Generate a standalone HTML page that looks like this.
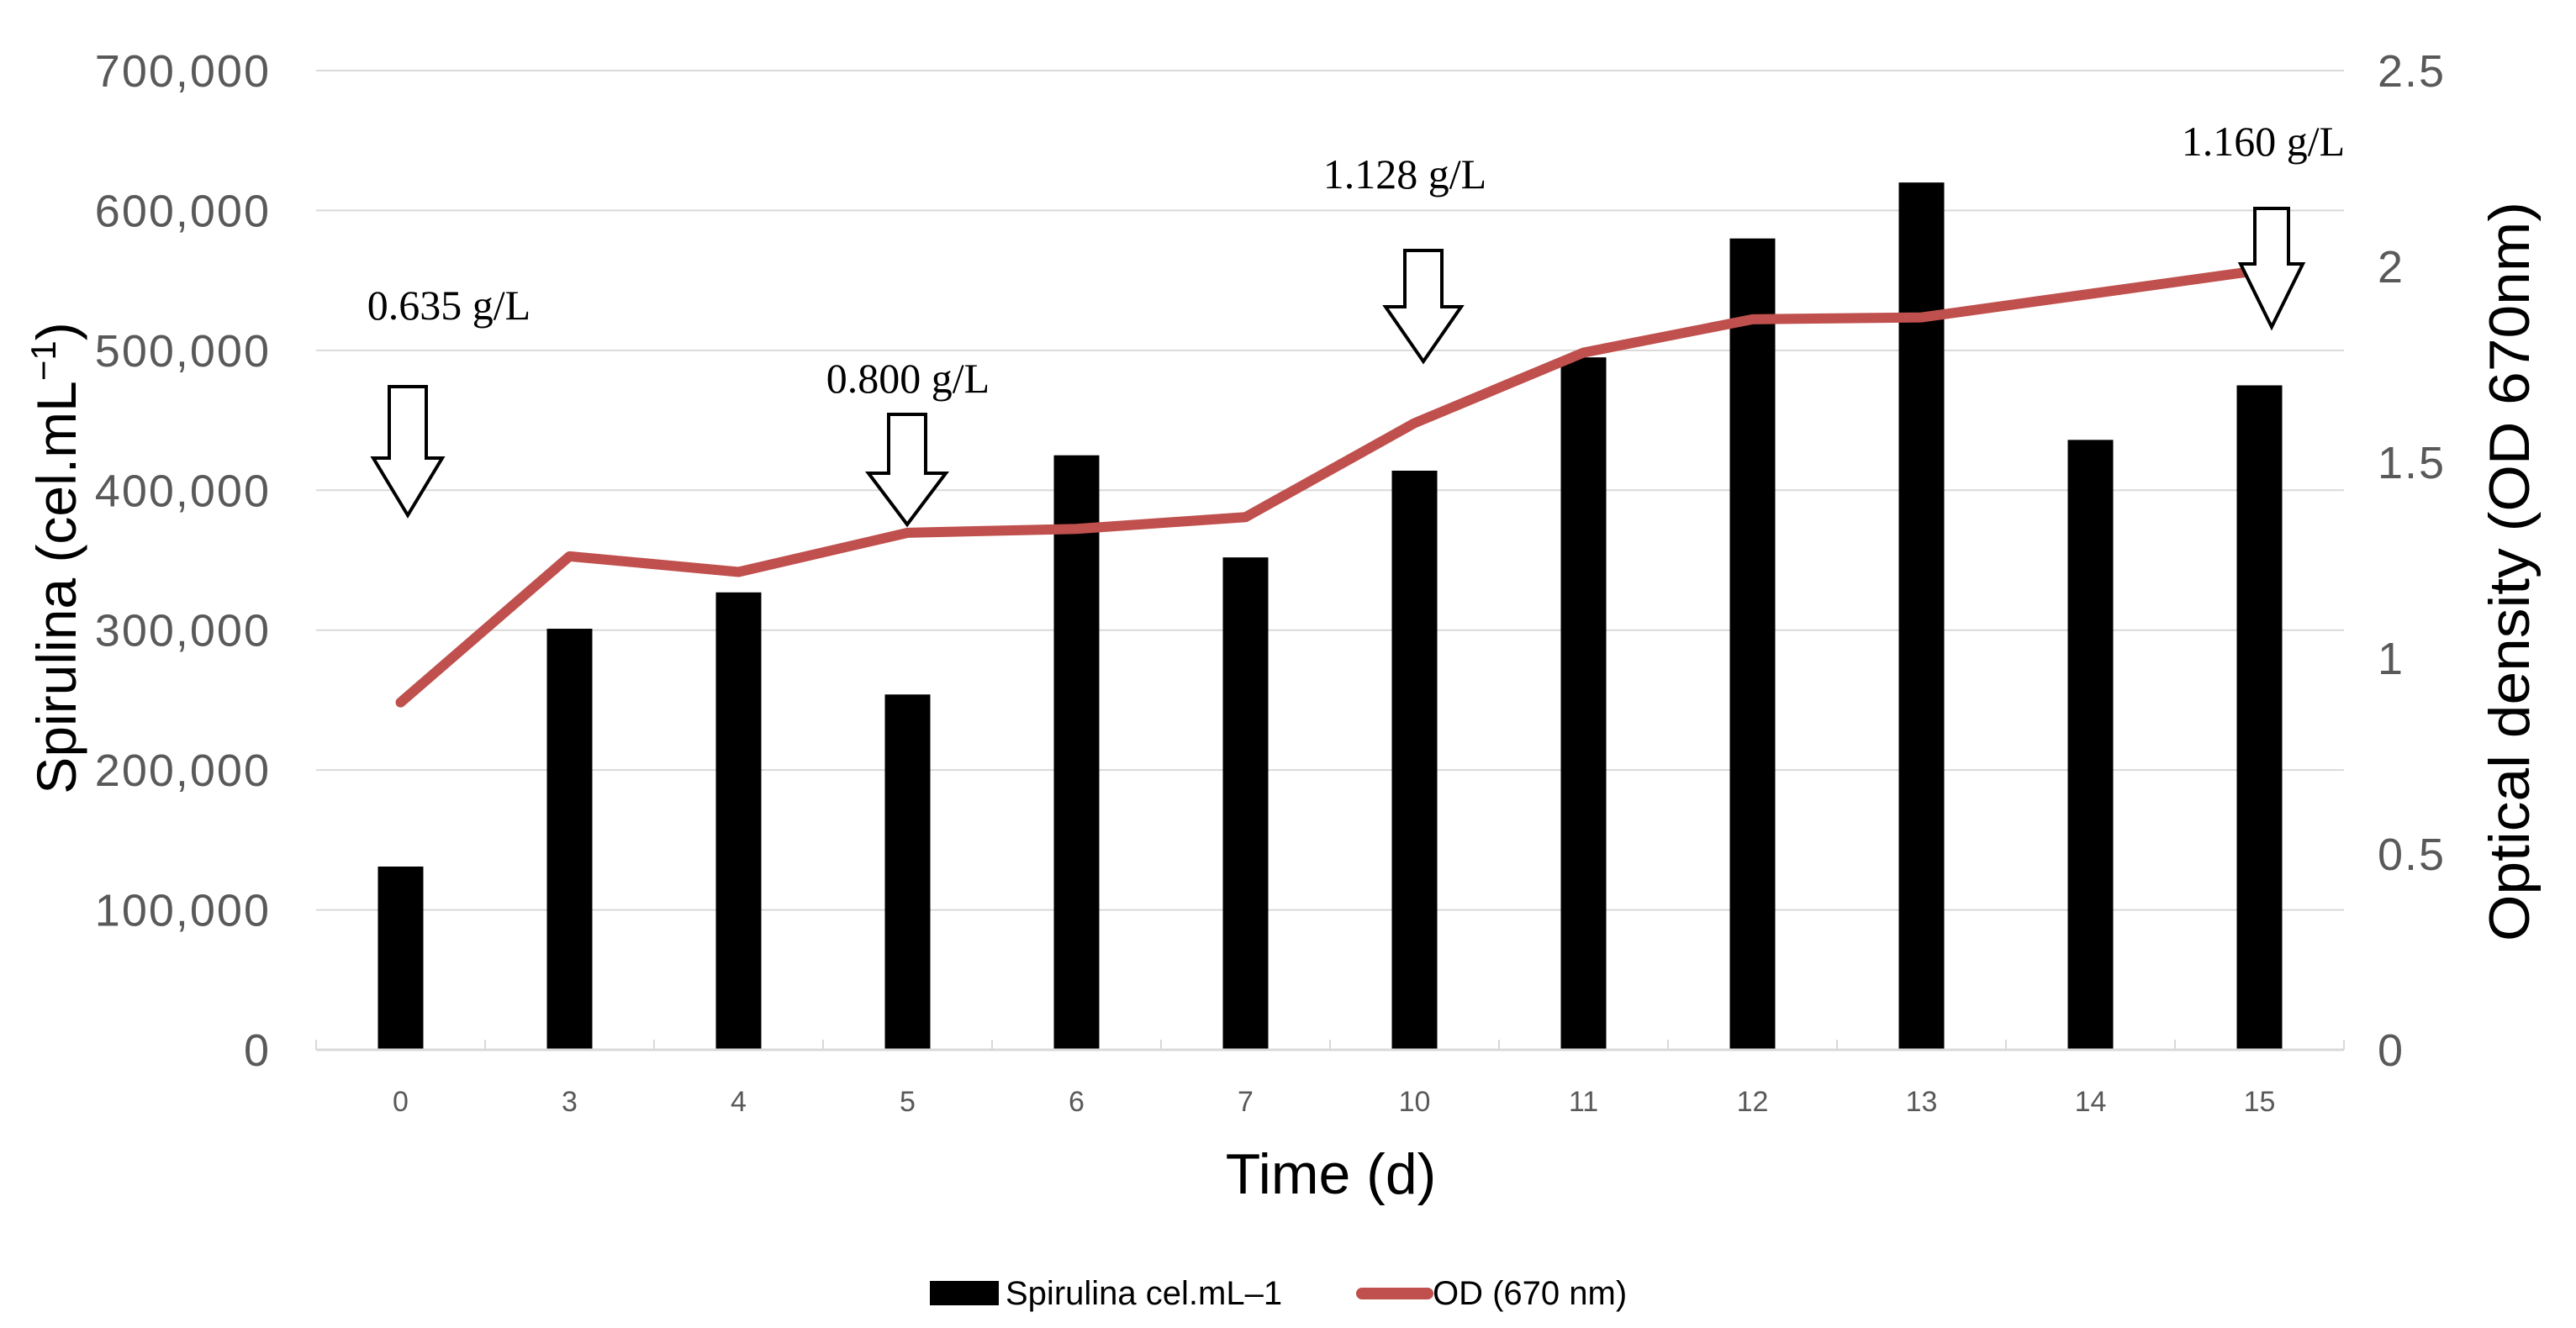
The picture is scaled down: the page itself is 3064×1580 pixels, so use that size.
<!DOCTYPE html>
<html><head><meta charset="utf-8">
<style>
html,body{margin:0;padding:0;background:#fff;}
svg{display:block;}
text{font-family:"Liberation Sans Narrow","Liberation Sans",sans-serif;}
.serif{font-family:"Liberation Serif",serif;}
</style></head>
<body>
<svg id="chart" width="3064" height="1580" viewBox="0 0 3064 1580" xmlns="http://www.w3.org/2000/svg">
<g id="grid"></g>
<g id="bars"></g>
<g id="xaxis"></g>
<g id="yleft"></g>
<g id="yright"></g>
<g id="line"></g>
<g id="notes"></g>
<text transform="translate(90,664) rotate(-90)" text-anchor="middle" font-size="66" fill="#000">Spirulina (cel.mL<tspan font-size="42" dy="-24">−1</tspan><tspan dy="24">)</tspan></text>
<text transform="translate(3008,680) rotate(-90)" text-anchor="middle" font-size="68" fill="#000" textLength="880" lengthAdjust="spacingAndGlyphs">Optical density (OD 670nm)</text>
<text x="1583" y="1420" text-anchor="middle" font-size="68" fill="#000">Time (d)</text>
<g>
  <rect x="1106" y="1524" width="82" height="29" fill="#000"/>
  <text x="1196" y="1552" font-size="40" fill="#000">Spirulina cel.mL–1</text>
  <line x1="1620" y1="1539" x2="1698" y2="1539" stroke="#c0504d" stroke-width="14" stroke-linecap="round"/>
  <text x="1704" y="1552" font-size="40" fill="#000">OD (670 nm)</text>
</g>
</svg>
<script>
const categories = ["0","3","4","5","6","7","10","11","12","13","14","15"];
const cellCounts = [131000,301000,327000,254000,425000,352000,414000,495000,580000,620000,436000,475000];
const odValues = [0.887,1.26,1.22,1.32,1.33,1.36,1.60,1.78,1.865,1.87,1.93,1.99];
const leftTicks = [0,100000,200000,300000,400000,500000,600000,700000];
const rightTicks = ["0","0.5","1","1.5","2","2.5"];
const noteLabels = ["0.635 g/L","0.800 g/L","1.128 g/L","1.160 g/L"];

const NS="http://www.w3.org/2000/svg";
const X0=376,X1=2788,Y0=1249,YT=84;
const bw=(X1-X0)/categories.length;
function xc(i){return X0+bw*(i+0.5);}
function yl(v){return Y0-(v/700000)*(Y0-YT);}
function yr(v){return Y0-(v/2.5)*(Y0-YT);}
function mk(tag,parent,attrs){const e=document.createElementNS(NS,tag);for(const k in attrs)e.setAttribute(k,attrs[k]);document.getElementById(parent).appendChild(e);return e;}

leftTicks.forEach((t,i)=>{
  if(i>0){const g=mk('line','grid',{x1:X0,x2:X1,y1:yl(t),y2:yl(t),stroke:'#d9d9d9','stroke-width':2});
  
  }
  const tx=mk('text','yleft',{x:322,y:yl(t)+19,'text-anchor':'end','font-size':54,fill:'#595959','letter-spacing':2,style:'font-family:"Liberation Sans",sans-serif'});
  tx.textContent=t.toLocaleString('en-US');
  
  
});
rightTicks.forEach(t=>{
  const tx=mk('text','yright',{x:2828,y:yr(parseFloat(t))+19,'font-size':54,fill:'#595959','letter-spacing':2,style:'font-family:"Liberation Sans",sans-serif'});
  tx.textContent=t;
  
  
});
const ax=mk('line','xaxis',{x1:X0,x2:X1,y1:Y0,y2:Y0,stroke:'#d9d9d9','stroke-width':3});


for(let i=0;i<=categories.length;i++){
  const tk=mk('line','xaxis',{x1:X0+bw*i,x2:X0+bw*i,y1:Y0-12,y2:Y0,stroke:'#d9d9d9','stroke-width':2});
  
  
}
categories.forEach((c,i)=>{
  const b=mk('rect','bars',{x:xc(i)-27,y:yl(cellCounts[i]),width:54,height:Y0-yl(cellCounts[i]),fill:'#000'});
  
  
  const tx=mk('text','xaxis',{x:xc(i),y:1322,'text-anchor':'middle','font-size':34,fill:'#595959'});
  tx.textContent=c;
  
  
});
const pts=odValues.map((v,i)=>xc(i)+','+yr(v)).join(' ');
const pl=mk('polyline','line',{points:pts,fill:'none',stroke:'#c0504d','stroke-width':12,'stroke-linejoin':'round','stroke-linecap':'round'});



// annotation arrows (cx, shaft top, head y, tip y, half shaft width, half head width, label x, label y)
const arrows=[[485,460,545,613,22,41,534,380],[1079,493,563,624,22,46,1080,467],[1693,298,365,430,22,45,1671,224],[2702,248,314,389,20,37,2692,185]];
arrows.forEach((a,k)=>{
  const [cx,top,hy,tip,sw,hw,lx,ly]=a;
  const d=`M${cx-sw},${top} L${cx+sw},${top} L${cx+sw},${hy} L${cx+hw},${hy} L${cx},${tip} L${cx-hw},${hy} L${cx-sw},${hy} Z`;
  const p=mk('path','notes',{d:d,fill:'#fff',stroke:'#000','stroke-width':4,'stroke-linejoin':'miter'});
  
  
  const tx=mk('text','notes',{x:lx,y:ly,'text-anchor':'middle','font-size':50,fill:'#000',class:'serif'});
  tx.textContent=noteLabels[k];
  
  
});
</script>
</body></html>
